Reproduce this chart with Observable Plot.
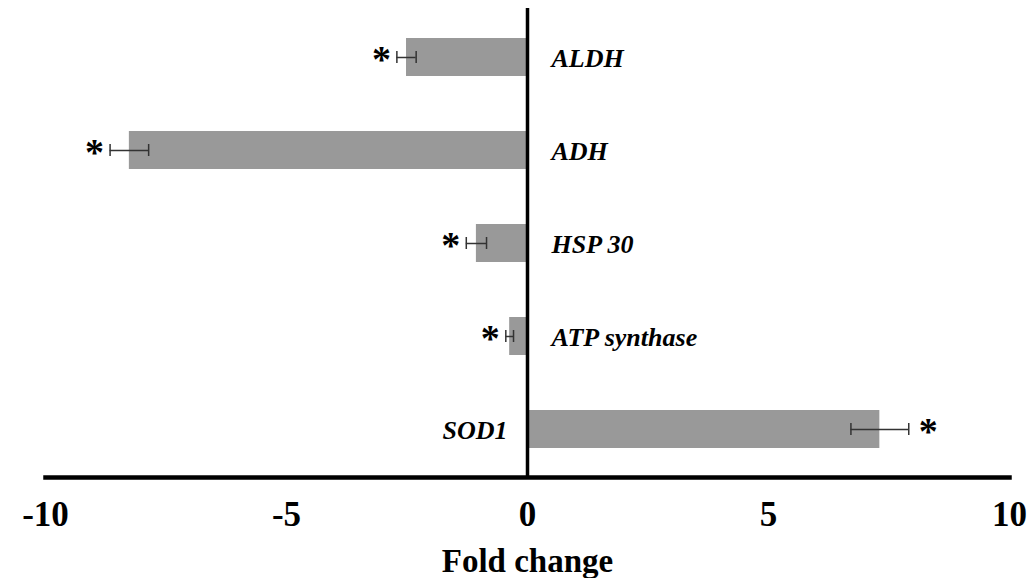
<!DOCTYPE html>
<html>
<head>
<meta charset="utf-8">
<script src="https://cdn.jsdelivr.net/npm/d3@7"></script>
<script src="https://cdn.jsdelivr.net/npm/@observablehq/plot@0.6"></script>
<style>
  html, body { margin: 0; padding: 0; background: #fff; }
  #chart svg { display: block; }
</style>
</head>
<body>
<div id="chart"></div>
<script>
const genes = ["ALDH", "ADH", "HSP 30", "ATP synthase", "SOD1"];
const foldChange = [-2.51, -8.26, -1.06, -0.37, 7.31];
const stdError = [0.2, 0.4, 0.21, 0.08, 0.6];
const significant = ["*", "*", "*", "*", "*"];
const xTicks = [-10, -5, 0, 5, 10];
const xLabel = "Fold change";

const data = genes.map((g, i) => ({
  gene: g,
  value: foldChange[i],
  lo: foldChange[i] - stdError[i],
  hi: foldChange[i] + stdError[i],
  star: significant[i]
}));
const neg = data.filter(d => d.value < 0);
const pos = data.filter(d => d.value >= 0);

const serif = "'Liberation Serif', 'Times New Roman', serif";

const chart = Plot.plot({
  width: 1032,
  height: 578,
  marginLeft: 45,
  marginRight: 23,
  marginTop: 10,
  marginBottom: 101,
  style: { fontFamily: serif, background: "#fff" },
  x: { domain: [-10, 10] },
  y: { domain: genes, paddingInner: 0.59, paddingOuter: 0.295, axis: null },
  marks: [
    Plot.barX(data, { x: "value", y: "gene", fill: "#999999" }),
    Plot.ruleY(data, { x1: "lo", x2: "hi", y: "gene", stroke: "#333", strokeWidth: 1.5 }),
    Plot.tickX(data, { x: "lo", y: "gene", stroke: "#333", strokeWidth: 1.5, insetTop: 13, insetBottom: 13 }),
    Plot.tickX(data, { x: "hi", y: "gene", stroke: "#333", strokeWidth: 1.5, insetTop: 13, insetBottom: 13 }),
    Plot.text(neg, {
      x: "lo", y: "gene", text: "star",
      textAnchor: "end", dx: -6, dy: 2,
      fontSize: 38, fontWeight: "bold", fill: "#000"
    }),
    Plot.text(pos, {
      x: "hi", y: "gene", text: "star",
      textAnchor: "start", dx: 10, dy: 2,
      fontSize: 38, fontWeight: "bold", fill: "#000"
    }),
    Plot.text(neg, {
      x: 0, y: "gene", text: "gene",
      textAnchor: "start", dx: 24, dy: 1,
      fontSize: 26, fontWeight: "bold", fontStyle: "italic", fill: "#000"
    }),
    Plot.text(pos, {
      x: 0, y: "gene", text: "gene",
      textAnchor: "end", dx: -20, dy: 1,
      fontSize: 26, fontWeight: "bold", fontStyle: "italic", fill: "#000"
    }),
    Plot.ruleX([0], { stroke: "#000", strokeWidth: 3.5, insetTop: -2, insetBottom: -2 }),
    Plot.frame({ anchor: "bottom", stroke: "#000", strokeWidth: 4.5 }),
    Plot.axisX({
      ticks: xTicks,
      tickFormat: d => String(d),
      tickSize: 0,
      tickPadding: 24,
      fontSize: 35,
      fontWeight: "bold",
      label: null,
      fill: "#000"
    }),
    Plot.text([xLabel], {
      frameAnchor: "bottom",
      dy: 94,
      fontSize: 33,
      fontWeight: "bold",
      fill: "#000"
    })
  ]
});

document.getElementById("chart").appendChild(chart);
</script>
</body>
</html>
